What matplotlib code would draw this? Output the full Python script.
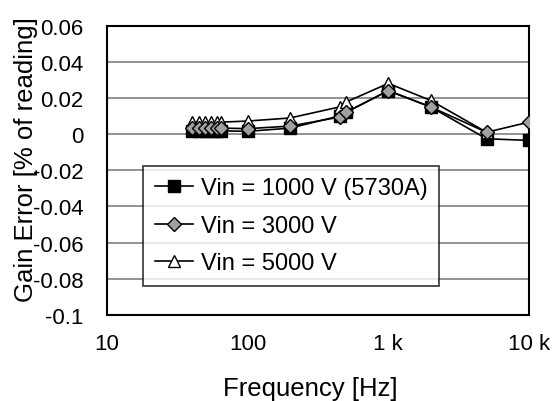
import matplotlib
matplotlib.use('Agg')
from matplotlib import pyplot as plt
from matplotlib.ticker import FixedLocator, NullLocator

plt.rcParams['font.family'] = ['Liberation Sans', 'DejaVu Sans']

freq = [40, 45, 50, 55, 60, 65, 100, 200, 450, 500, 1000, 2000, 5000, 10000]
err_1000 = [0.0018, 0.0018, 0.0018, 0.0018, 0.0018, 0.0018, 0.0015, 0.0033,
            0.010, 0.012, 0.024, 0.015, -0.0026, -0.0035]
err_3000 = [0.0033, 0.0033, 0.0033, 0.0033, 0.0033, 0.0033, 0.003, 0.0044,
            0.0094, 0.012, 0.024, 0.015, 0.001, 0.0066]
freq_5000 = [40, 45, 50, 55, 60, 65, 100, 200, 450, 500, 1000, 2000, 5000]
err_5000 = [0.0066, 0.0066, 0.0066, 0.0066, 0.0066, 0.0066, 0.0072, 0.0089,
            0.015, 0.0177, 0.028, 0.0186, 0.001]

x_ticks = [10, 100, 1000, 10000]
x_labels = ['10', '100', '1 k', '10 k']
y_ticks = [-0.1, -0.08, -0.06, -0.04, -0.02, 0, 0.02, 0.04, 0.06]
y_labels = ['-0.1', '-0.08', '-0.06', '-0.04', '-0.02', '0', '0.02', '0.04', '0.06']

fig = plt.figure(figsize=(5.55, 4.02), dpi=100)
ax = fig.add_axes([0.193, 0.214, 0.76, 0.72])

ax.plot(freq, err_1000, color='black', lw=1.2, marker='s', ms=8,
        mfc='black', mec='black', label='Vin = 1000 V (5730A)', zorder=3)
ax.plot(freq_5000, err_5000, color='black', lw=1.2, marker='^', ms=9,
        mfc='white', mec='black', label='Vin = 5000 V', zorder=4)
ax.plot(freq, err_3000, color='black', lw=1.2, marker='D', ms=7,
        mfc='#a0a0a0', mec='black', label='Vin = 3000 V', zorder=5)

ax.set_xscale('log')
ax.set_xlim(10, 10000)
ax.set_ylim(-0.1, 0.06)
ax.xaxis.set_major_locator(FixedLocator(x_ticks))
ax.xaxis.set_minor_locator(NullLocator())
ax.set_xticks(x_ticks, x_labels)
ax.set_yticks(y_ticks, y_labels)
ax.tick_params(length=0, labelsize=16)
ax.tick_params(axis='x', pad=13)
ax.tick_params(axis='y', pad=17)
ax.grid(axis='y', color='#808080', lw=1.2)
ax.set_axisbelow(True)
for s in ax.spines.values():
    s.set_linewidth(1.5)

ax.set_xlabel('Frequency [Hz]', fontsize=18.5, va='top')
ax.xaxis.set_label_coords(0.481, -0.212)
ax.set_ylabel('Gain Error [% of reading]', fontsize=18.5, va='bottom')
ax.yaxis.set_label_coords(-0.165, 0.54)

handles, labels = ax.get_legend_handles_labels()
order = [0, 2, 1]
leg = ax.legend([handles[i] for i in order], [labels[i] for i in order],
                loc='upper left', bbox_to_anchor=(0.085, 0.516), fontsize=17,
                frameon=True, fancybox=False, edgecolor='black',
                handlelength=1.6, borderpad=0.5, labelspacing=0.65,
                handletextpad=0.35, borderaxespad=0)
leg.get_frame().set_linewidth(1.2)
leg.set_zorder(10)

fig.savefig('out.png', dpi=100)
